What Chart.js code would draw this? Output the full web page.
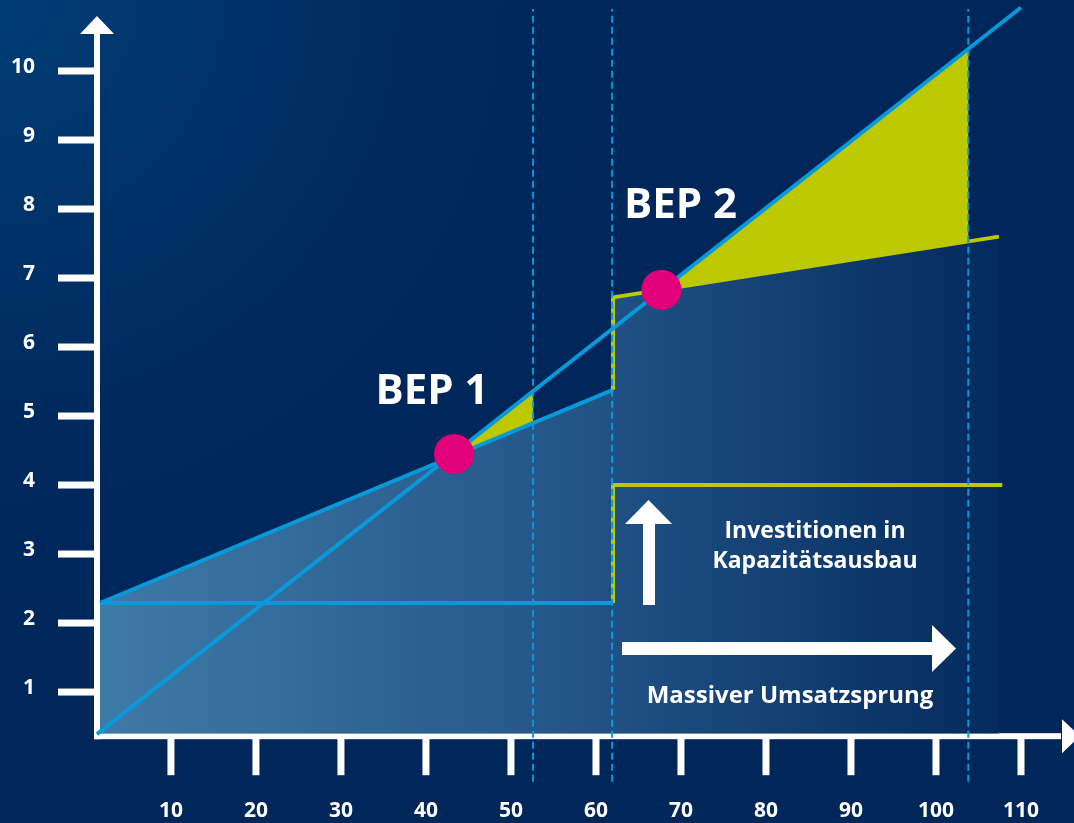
<!DOCTYPE html>
<html><head><meta charset="utf-8">
<script src="https://cdn.jsdelivr.net/npm/chart.js@4.4.1/dist/chart.umd.min.js"></script>
<style>html,body{margin:0;padding:0;background:#00265a;overflow:hidden}canvas{display:block}</style>
</head><body>
<canvas id="c" width="1074" height="823"></canvas>
<script>
// ---- data ----
const xTicks = [10, 20, 30, 40, 50, 60, 70, 80, 90, 100, 110];
const yTicks = [1, 2, 3, 4, 5, 6, 7, 8, 9, 10];

const revenueX = [1.3, 110];
const revenueY = [0.39, 10.92];

const fixed1X = [1.65, 62];
const fixed1Y = [2.29, 2.29];

const cost1X = [1.65, 62];
const cost1Y = [2.29, 5.38];

const fixed2X = [62, 62, 107.8];
const fixed2Y = [2.29, 4.0, 4.0];

const cost2X = [62, 62, 107.4];
const cost2Y = [5.38, 6.72, 7.60];

const areaX = [1.65, 62, 62, 107.4];
const areaY = [2.29, 5.38, 6.72, 7.60];

const profit1X = [43.3, 52.6, 52.6, 43.3];
const profit1Y = [4.45, 5.39, 4.90, 4.45];

const profit2X = [67.7, 103.8, 103.8, 67.7];
const profit2Y = [6.83, 10.32, 7.53, 6.83];

const bepX = [43.3, 67.7];
const bepY = [4.45, 6.83];
const bepLabels = ['BEP 1', 'BEP 2'];

const markerX = [52.6, 61.9, 103.8];
const markerY = [-0.3, 10.9];

const BLUE = '#0799d9', YELLOW = '#bcc800', MAGENTA = '#e2007a', WHITE = '#ffffff';
const FONT = '"Open Sans", "DejaVu Sans", sans-serif';

const pts = (xs, ys) => xs.map((x, i) => ({x: x, y: ys[i]}));

const lineDs = (xs, ys, color, order) => ({
  data: pts(xs, ys), borderColor: color, borderWidth: 4, pointRadius: 0,
  fill: false, clip: false, order: order, tension: 0, borderCapStyle: 'butt', borderJoinStyle: 'miter'
});

const datasets = [
  { data: pts(areaX, areaY), borderWidth: 0, pointRadius: 0, clip: false, order: 20,
    fill: {value: 0.4},
    backgroundColor: (ctx) => {
      const ca = ctx.chart.chartArea; if (!ca) return 'rgba(60,120,165,0.8)';
      const g = ctx.chart.ctx.createLinearGradient(ca.left, 0, 1005, 0);
      g.addColorStop(0, '#3f7ba7'); g.addColorStop(0.5, '#25568a'); g.addColorStop(1, '#032a5c');
      return g;
    } },
  { data: pts(profit1X, profit1Y), backgroundColor: YELLOW, borderWidth: 0, pointRadius: 0, fill: 'shape', clip: false, order: 15 },
  { data: pts(profit2X, profit2Y), backgroundColor: YELLOW, borderWidth: 0, pointRadius: 0, fill: 'shape', clip: false, order: 15 },
  lineDs(fixed1X, fixed1Y, BLUE, 8),
  lineDs(cost1X, cost1Y, BLUE, 8),
  lineDs(fixed2X, fixed2Y, YELLOW, 7),
  lineDs(cost2X, cost2Y, YELLOW, 7),
  lineDs(revenueX, revenueY, BLUE, 6),
];
markerX.forEach(mx => {
  datasets.push({ data: pts([mx, mx], markerY), borderColor: BLUE, borderWidth: 2, borderDash: [7, 4],
    pointRadius: 0, fill: false, clip: false, order: 3 });
});
datasets.push({ data: pts(bepX, bepY), showLine: false, pointRadius: 20, pointHoverRadius: 20,
  pointBackgroundColor: MAGENTA, pointBorderWidth: 0, clip: false, order: 1 });

const bgPlugin = {
  id: 'bg',
  beforeDraw(chart) {
    const c = chart.ctx, W = chart.width, H = chart.height;
    c.save();
    c.fillStyle = '#00265a'; c.fillRect(0, 0, W, H);
    const g = c.createRadialGradient(0, 0, 0, 0, 0, 750);
    g.addColorStop(0, '#003d77'); g.addColorStop(0.55, '#002a5e'); g.addColorStop(1, 'rgba(0,38,90,0)');
    c.fillStyle = g; c.fillRect(0, 0, W, H);
    c.restore();
  },
  beforeDatasetsDraw(chart) {
    const c = chart.ctx, xs = chart.scales.x, ys = chart.scales.y, ca = chart.chartArea;
    const ax = ca.left, ay = ca.bottom;
    c.save();
    c.fillStyle = WHITE; c.strokeStyle = WHITE;
    // y axis
    c.fillRect(ax - 3, 30, 6, ay + 3 - 30);
    c.beginPath(); c.moveTo(ax - 17, 34); c.lineTo(ax + 17, 34); c.lineTo(ax, 16); c.closePath(); c.fill();
    // x axis
    c.fillRect(ax - 3, ay - 3, 1064 - ax, 6);
    c.beginPath(); c.moveTo(1062, ay - 17); c.lineTo(1062, ay + 17); c.lineTo(1080, ay); c.closePath(); c.fill();
    // ticks + labels
    c.font = 'bold 21px ' + FONT;
    c.textBaseline = 'middle';
    c.textAlign = 'right';
    yTicks.forEach(v => {
      const py = ys.getPixelForValue(v);
      c.fillRect(58, py - 3.5, ax - 58, 7);
      c.fillText(String(v), 35, py - 4);
    });
    c.textAlign = 'center';
    xTicks.forEach(v => {
      const px = xs.getPixelForValue(v);
      c.fillRect(px - 3.5, ay + 2, 7, 37);
      c.fillText(String(v), px, 811);
    });
    c.restore();
  },
  afterDraw(chart) {
    const c = chart.ctx, xs = chart.scales.x, ys = chart.scales.y;
    c.save();
    c.fillStyle = WHITE;
    c.textAlign = 'center'; c.textBaseline = 'alphabetic';
    c.font = 'bold 42px ' + FONT;
    c.fillText(bepLabels[0], xs.getPixelForValue(bepX[0]) - 22, 404);
    c.fillText(bepLabels[1], xs.getPixelForValue(bepX[1]) + 19, 218);
    c.font = 'bold 23px ' + FONT;
    c.fillText('Investitionen in', 815, 538);
    c.fillText('Kapazitätsausbau', 815, 568);
    c.font = 'bold 24px ' + FONT;
    c.fillText('Massiver Umsatzsprung', 790, 703);
    // up arrow
    c.fillRect(643, 523, 12, 82);
    c.beginPath(); c.moveTo(625, 524); c.lineTo(672, 524); c.lineTo(648.5, 500); c.closePath(); c.fill();
    // right arrow
    c.fillRect(622, 642, 311, 13);
    c.beginPath(); c.moveTo(932, 625); c.lineTo(932, 672); c.lineTo(956, 648.5); c.closePath(); c.fill();
    c.restore();
  }
};

new Chart(document.getElementById('c'), {
  type: 'line',
  data: { datasets: datasets },
  options: {
    responsive: false, animation: false,
    layout: { autoPadding: false, padding: { left: 97, right: 2, top: 2, bottom: 86.8 } },
    scales: {
      x: { type: 'linear', min: 1.3, max: 116, display: false },
      y: { type: 'linear', min: 0.36, max: 11, display: false }
    },
    plugins: { legend: { display: false }, tooltip: { enabled: false } },
    events: []
  },
  plugins: [bgPlugin]
});
</script>
</body></html>
